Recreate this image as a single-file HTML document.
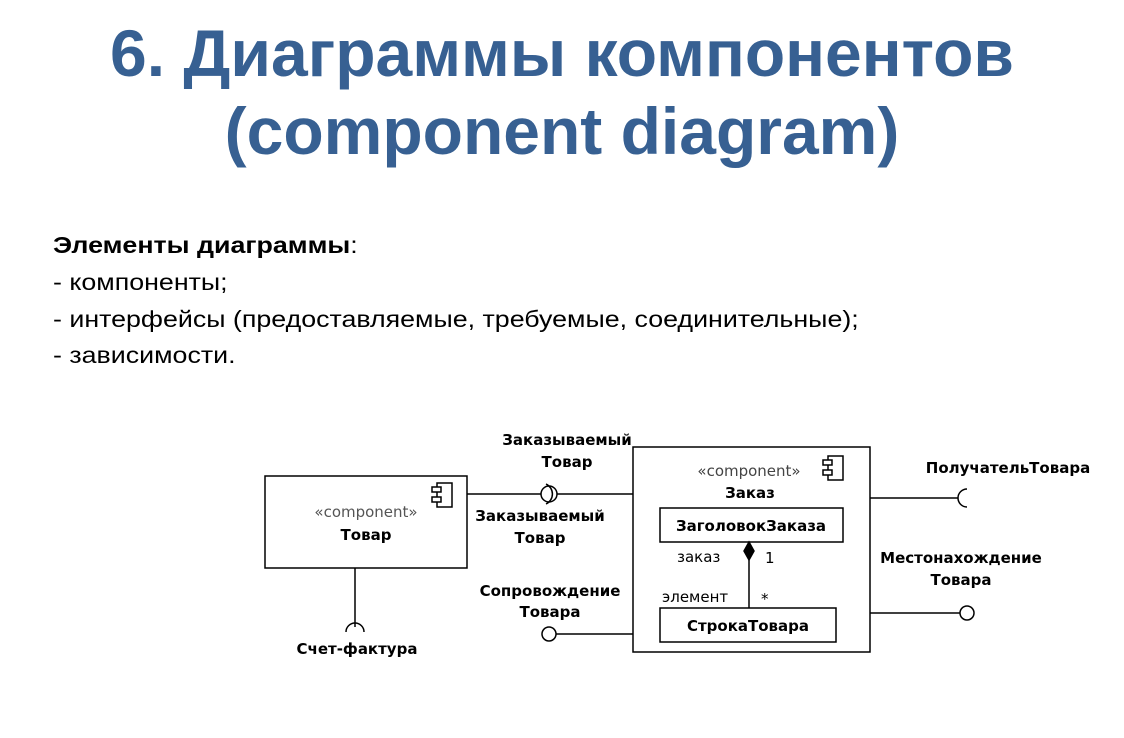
<!DOCTYPE html>
<html><head><meta charset="utf-8"><style>
html,body{margin:0;padding:0;background:#fff;width:1124px;height:738px;overflow:hidden;position:relative}
.t{position:absolute;left:0;width:1124px;text-align:center;font-family:"Liberation Sans",sans-serif;font-weight:bold;color:#376092;font-size:66px;line-height:1}
.b{position:absolute;left:53px;font-family:"Liberation Sans",sans-serif;font-size:23px;color:#000;line-height:1;transform:scaleX(1.165);transform-origin:0 0;white-space:nowrap}
svg{position:absolute;left:0;top:0}
svg text{font-family:"DejaVu Sans","Liberation Sans",sans-serif;font-size:15px}
</style></head><body>
<div class="t" style="top:20px">6. Диаграммы компонентов</div>
<div class="t" style="top:98px">(component diagram)</div>
<div class="b" style="top:234px"><b>Элементы диаграммы</b>:</div>
<div class="b" style="top:271px">- компоненты;</div>
<div class="b" style="top:308px">- интерфейсы (предоставляемые, требуемые, соединительные);</div>
<div class="b" style="top:344px">- зависимости.</div>
<svg width="1124" height="738" fill="none" stroke="#000" stroke-width="1.5">
<rect x="265" y="476" width="202" height="92"/>
<rect x="437" y="483" width="15" height="24"/><rect x="432" y="487" width="9" height="5" fill="#fff"/><rect x="432" y="497" width="9" height="5" fill="#fff"/>
<line x1="467" y1="494" x2="541" y2="494"/>
<circle cx="549" cy="494" r="8"/>
<path d="M546 484 A11 11 0 0 1 546 504"/>
<line x1="557" y1="494" x2="633" y2="494"/>
<line x1="355" y1="568" x2="355" y2="627"/>
<path d="M346 632 A9 9 0 0 1 364 632"/>
<circle cx="549" cy="634" r="7"/>
<line x1="556" y1="634" x2="633" y2="634"/>
<rect x="633" y="447" width="237" height="205"/>
<rect x="828" y="456" width="15" height="24"/><rect x="823" y="460" width="9" height="5" fill="#fff"/><rect x="823" y="470" width="9" height="5" fill="#fff"/>
<rect x="660" y="508" width="183" height="34"/>
<rect x="660" y="608" width="176" height="34"/>
<path d="M749 542 L754 551 L749 560 L744 551 Z" fill="#000"/>
<line x1="749" y1="560" x2="749" y2="608"/>
<line x1="870" y1="498" x2="958" y2="498"/>
<path d="M967 489 A9 9 0 0 0 967 507"/>
<line x1="870" y1="613" x2="960" y2="613"/>
<circle cx="967" cy="613" r="7"/>
<g stroke="none" fill="#000">
<text x="366" y="517" text-anchor="middle" fill="#555" font-size="15">«component»</text>
<text x="366" y="540" text-anchor="middle" font-weight="bold">Товар</text>
<text x="567" y="445" text-anchor="middle" font-weight="bold">Заказываемый</text>
<text x="567" y="467" text-anchor="middle" font-weight="bold">Товар</text>
<text x="540" y="521" text-anchor="middle" font-weight="bold">Заказываемый</text>
<text x="540" y="543" text-anchor="middle" font-weight="bold">Товар</text>
<text x="550" y="596" text-anchor="middle" font-weight="bold">Сопровождение</text>
<text x="550" y="617" text-anchor="middle" font-weight="bold">Товара</text>
<text x="357" y="654" text-anchor="middle" font-weight="bold">Счет-фактура</text>
<text x="749" y="476" text-anchor="middle" fill="#444">«component»</text>
<text x="750" y="498" text-anchor="middle" font-weight="bold">Заказ</text>
<text x="751" y="531" text-anchor="middle" font-weight="bold">ЗаголовокЗаказа</text>
<text x="748" y="631" text-anchor="middle" font-weight="bold">СтрокаТовара</text>
<text x="677" y="562" font-size="13">заказ</text>
<text x="765" y="563" font-size="13">1</text>
<text x="662" y="602" font-size="13">элемент</text>
<text x="761" y="604" font-size="13">*</text>
<text x="1008" y="473" text-anchor="middle" font-weight="bold">ПолучательТовара</text>
<text x="961" y="563" text-anchor="middle" font-weight="bold">Местонахождение</text>
<text x="961" y="585" text-anchor="middle" font-weight="bold">Товара</text>
</g>
</svg>
</body></html>
